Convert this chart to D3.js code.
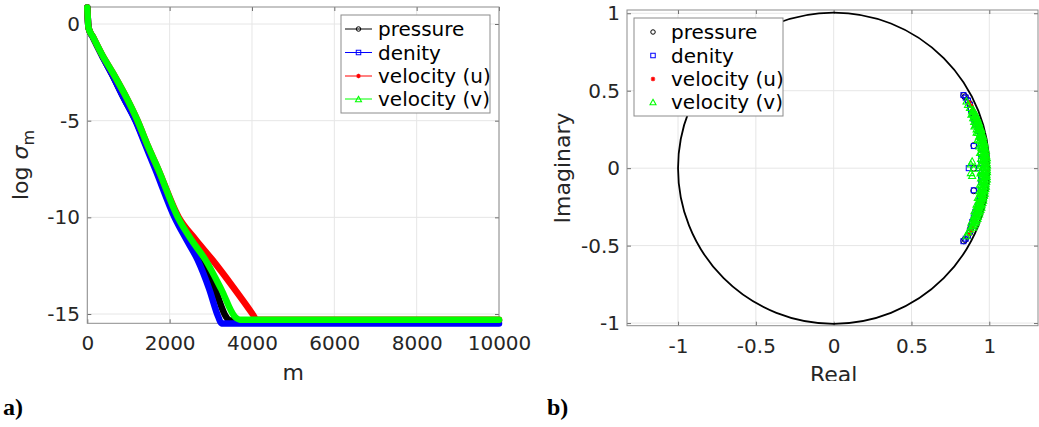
<!DOCTYPE html>
<html>
<head>
<meta charset="utf-8">
<script src="https://cdn.jsdelivr.net/npm/d3@7"></script>
<style>
  body { margin: 0; background: #fff; }
  svg { display: block; font-family: "DejaVu Sans", sans-serif; }
</style>
</head>
<body>
<div id="fig"></div>
<script>
//-------------------- data --------------------
const seriesNames = ['pressure', 'denity', 'velocity (u)', 'velocity (v)'];

// panel a) : log sigma_m against m
const mPressure = [0, 30, 140, 350, 600, 880, 1180, 1420, 1680, 2160, 2470, 2760, 3100, 3370, 3466, 10000];
const sPressure = [0.85, -0.2, -0.7, -1.6, -2.6, -3.8, -5.0, -6.2, -7.5, -10.0, -11.2, -12.2, -13.7, -15.14, -15.34, -15.34];
const mDenity = [0, 30, 140, 350, 600, 880, 1170, 1400, 1650, 2120, 2420, 2680, 2960, 3180, 3262, 10000];
const sDenity = [0.85, -0.2, -0.7, -1.6, -2.6, -3.8, -5.0, -6.2, -7.5, -10.0, -11.2, -12.2, -13.7, -15.14, -15.49, -15.49];
const mVelU = [0, 30, 140, 350, 625, 900, 1220, 1470, 1720, 2220, 2640, 3040, 3540, 4030, 4110, 10000];
const sVelU = [0.85, -0.2, -0.67, -1.55, -2.54, -3.6, -5.0, -6.3, -7.5, -10.0, -11.17, -12.2, -13.6, -15.05, -15.3, -15.3];
const mVelV = [0, 30, 140, 350, 625, 900, 1220, 1470, 1720, 2200, 2540, 2870, 3250, 3585, 3707, 10000];
const sVelV = [0.85, -0.2, -0.67, -1.55, -2.54, -3.6, -5.0, -6.3, -7.5, -10.0, -11.2, -12.2, -13.7, -15.14, -15.29, -15.29];

const xTicksA = [0, 2000, 4000, 6000, 8000, 10000];
const yTicksA = [0, -5, -10, -15];

// panel b) : eigenvalues, upper half as [modulus, angle in degrees]; the lower half is the conjugate
const eigPressure = [[0.959, 29.3], [0.962, 28.6], [0.966, 27.0], [0.968, 25.5], [0.962, 23.8], [0.958, 22.0],
  [0.96, 20.2], [0.963, 18.0], [0.966, 15.5], [0.97, 12.5], [0.973, 9.5], [0.976, 6.5], [0.978, 3.5], [0.912, 9.2]];
const realPressure = [0.9];
const eigDenity = [[0.958, 29.5], [0.963, 28.2], [0.967, 26.8], [0.965, 25.0], [0.96, 23.2], [0.956, 21.3],
  [0.955, 19.5], [0.953, 17.2], [0.957, 14.5], [0.96, 11.8], [0.955, 8.5], [0.952, 5.5], [0.948, 3.0], [0.912, 9.0]];
const realDenity = [0.868, 0.935];
const eigVelU = [[0.968, 26.0], [0.972, 24.5], [0.969, 23.0], [0.966, 21.5], [0.968, 20.0], [0.972, 18.3],
  [0.975, 16.0], [0.978, 13.5], [0.98, 11.0], [0.982, 8.5], [0.984, 6.0], [0.986, 3.5], [0.987, 1.2]];
const realVelU = [];
const eigVelV = [
  [0.984, 0.4], [0.986, 1.3], [0.983, 2.2], [0.985, 3.1], [0.987, 4.0], [0.984, 4.9], [0.982, 5.8], [0.985, 6.7],
  [0.983, 7.6], [0.981, 8.5], [0.984, 9.4], [0.982, 10.3], [0.98, 11.2], [0.983, 12.1], [0.981, 13.0], [0.979, 13.9],
  [0.982, 14.8], [0.98, 15.7], [0.978, 16.6], [0.98, 17.5], [0.977, 18.4], [0.979, 19.3], [0.976, 20.2],
  [0.977, 21.1], [0.974, 22.0], [0.973, 23.0],
  [0.972, 0.9], [0.97, 1.8], [0.973, 2.7], [0.971, 3.6], [0.969, 4.5], [0.972, 5.4], [0.97, 6.3], [0.968, 7.2],
  [0.971, 8.1], [0.969, 9.0], [0.967, 9.9], [0.97, 10.8], [0.968, 11.7], [0.966, 12.6], [0.969, 13.5], [0.967, 14.4],
  [0.965, 15.3], [0.968, 16.2], [0.966, 17.1], [0.964, 18.0], [0.966, 18.9], [0.963, 19.8], [0.965, 20.7],
  [0.962, 21.6], [0.963, 22.6], [0.96, 24.2],
  [0.958, 0.5], [0.956, 2.0], [0.959, 3.5], [0.957, 5.0], [0.955, 6.5], [0.958, 8.0], [0.956, 9.5], [0.954, 11.0],
  [0.957, 12.5], [0.955, 14.0], [0.953, 15.5], [0.955, 17.0], [0.952, 18.5], [0.954, 20.0], [0.951, 21.5],
  [0.956, 25.5], [0.958, 27.0],
  [0.947, 1.2], [0.949, 3.8], [0.946, 6.2], [0.948, 8.8], [0.945, 11.5], [0.947, 14.2], [0.945, 16.8],
  [0.882, 1.8], [0.891, 3.0], [0.944, 1.8]];
const realVelV = [0.9];

const xTicksB = [-1, -0.5, 0, 0.5, 1];
const yTicksB = [-1, -0.5, 0, 0.5, 1];

//-------------------- style --------------------
const colors = ['#000000', '#0000ff', '#ff0000', '#00ff00'];
const symbols = ['circle', 'square', 'asterisk', 'triangle'];
const TXT = '#262626', BOX = '#8c8c8c', GRID = '#e6e6e6';

const svg = d3.select('#fig').append('svg')
  .attr('width', 1039).attr('height', 427);

function marker(g, type, cx, cy, s, color) {
  if (type === 'circle') {
    g.append('circle').attr('cx', cx).attr('cy', cy).attr('r', s / 2)
      .attr('fill', 'none').attr('stroke', color).attr('stroke-width', 1);
  } else if (type === 'square') {
    g.append('rect').attr('x', cx - s / 2).attr('y', cy - s / 2).attr('width', s).attr('height', s)
      .attr('fill', 'none').attr('stroke', color).attr('stroke-width', 1);
  } else if (type === 'triangle') {
    const h = s * 0.9;
    g.append('path')
      .attr('d', `M${cx},${cy - h / 2}L${cx + s / 2},${cy + h / 2}L${cx - s / 2},${cy + h / 2}Z`)
      .attr('fill', 'none').attr('stroke', color).attr('stroke-width', 1.1);
  } else {
    const r = s / 2;
    let d = `M${cx - r},${cy}L${cx + r},${cy}M${cx},${cy - r}L${cx},${cy + r}`;
    d += `M${cx - r * 0.7},${cy - r * 0.7}L${cx + r * 0.7},${cy + r * 0.7}M${cx - r * 0.7},${cy + r * 0.7}L${cx + r * 0.7},${cy - r * 0.7}`;
    g.append('path').attr('d', d).attr('stroke', color).attr('stroke-width', 1.2).attr('fill', 'none');
  }
}

function frame(g, x, y, xt, yt, xPad, yPad) {
  const [x0, x1] = x.range(), [y0, y1] = y.range();
  // grid
  g.append('g').selectAll('line').data(xt).join('line')
    .attr('x1', d => x(d)).attr('x2', d => x(d)).attr('y1', y0).attr('y2', y1)
    .attr('stroke', GRID).attr('stroke-width', 1);
  g.append('g').selectAll('line').data(yt).join('line')
    .attr('y1', d => y(d)).attr('y2', d => y(d)).attr('x1', x0).attr('x2', x1)
    .attr('stroke', GRID).attr('stroke-width', 1);

  const fmt = d => String(d);
  const axes = [
    [d3.axisBottom(x).tickValues(xt).tickFormat(fmt).tickPadding(xPad), `translate(0,${y0})`],
    [d3.axisTop(x).tickValues(xt).tickFormat(''), `translate(0,${y1})`],
    [d3.axisLeft(y).tickValues(yt).tickFormat(fmt).tickPadding(yPad), `translate(${x0},0)`],
    [d3.axisRight(y).tickValues(yt).tickFormat(''), `translate(${x1},0)`]
  ];
  axes.forEach(([ax, tr]) => {
    const a = g.append('g').attr('transform', tr)
      .call(ax.tickSize(-4).tickSizeOuter(0));
    a.select('.domain').remove();
    a.selectAll('line').attr('stroke', '#6e6e6e');
    a.selectAll('text').attr('fill', TXT).style('font-size', '20px')
      .style('font-family', '"DejaVu Sans", sans-serif');
  });
  g.append('rect').attr('x', x0).attr('y', y1).attr('width', x1 - x0).attr('height', y0 - y1)
    .attr('fill', 'none').attr('stroke', BOX).attr('stroke-width', 1);
}

//-------------------- panel a) --------------------
const xA = d3.scaleLinear().domain([0, 10000]).range([87.3, 499]);
const yA = d3.scaleLinear().domain([-15.48, 0.88]).range([323.3, 7]);
const gA = svg.append('g');
frame(gA, xA, yA, xTicksA, yTicksA, 12.5, 7.3);

const linesA = [[mPressure, sPressure], [mDenity, sDenity], [mVelU, sVelU], [mVelV, sVelV]];
const line = d3.line().x(d => xA(d[0])).y(d => yA(d[1])).curve(d3.curveMonotoneX);
linesA.forEach(([m, s], i) => {
  gA.append('path').datum(m.map((v, k) => [v, s[k]]))
    .attr('d', line).attr('fill', 'none').attr('stroke', colors[i])
    .attr('stroke-width', 6.5).attr('stroke-linejoin', 'round').attr('stroke-linecap', 'round');
});

// legend a)
const legA = gA.append('g');
legA.append('rect').attr('x', 341).attr('y', 15).attr('width', 149).attr('height', 98)
  .attr('fill', '#fff').attr('stroke', BOX);
[29, 52.5, 76, 99].forEach((cy, i) => {
  legA.append('line').attr('x1', 345).attr('x2', 372).attr('y1', cy).attr('y2', cy)
    .attr('stroke', colors[i]).attr('stroke-width', 1);
  marker(legA, symbols[i], 358.5, cy, symbols[i] === 'triangle' ? 6 : 4.5, colors[i]);
  legA.append('text').attr('x', 378).attr('y', cy).attr('dy', '0.35em')
    .attr('fill', '#000').style('font-size', '20px').text(seriesNames[i]);
});

gA.append('text').attr('x', xA(5000)).attr('y', 380).attr('text-anchor', 'middle')
  .attr('fill', TXT).style('font-size', '22px').text('m');
const yl = gA.append('text').attr('transform', `translate(28,165) rotate(-90)`)
  .attr('text-anchor', 'middle').attr('fill', TXT).style('font-size', '22px');
yl.append('tspan').text('log ');
yl.append('tspan').style('font-style', 'italic').text('σ');
yl.append('tspan').attr('dy', 6).style('font-size', '16px').text('m');

svg.append('text').attr('x', 3).attr('y', 415).style('font-family', '"Liberation Serif", serif')
  .style('font-weight', 'bold').style('font-size', '24px').attr('fill', '#000').text('a)');

//-------------------- panel b) --------------------
const xB = d3.scaleLinear().domain([-1.328, 1.313]).range([627, 1038]);
const yB = d3.scaleLinear().domain([-1.017, 1.021]).range([325.7, 10]);
const gB = svg.append('g');
frame(gB, xB, yB, xTicksB, yTicksB, 13, 7);

gB.append('circle').attr('cx', xB(0)).attr('cy', yB(0)).attr('r', xB(1) - xB(0))
  .attr('fill', 'none').attr('stroke', '#000').attr('stroke-width', 1.8);

const eigSets = [[eigPressure, realPressure], [eigDenity, realDenity], [eigVelU, realVelU], [eigVelV, realVelV]];
const sizesB = [6, 5, 4.5, 7];
eigSets.forEach(([pol, re], i) => {
  const pts = [];
  pol.forEach(([r, a]) => {
    const t = a * Math.PI / 180;
    pts.push([r * Math.cos(t), r * Math.sin(t)]);
    pts.push([r * Math.cos(t), -r * Math.sin(t)]);
  });
  re.forEach(v => pts.push([v, 0]));
  const g = gB.append('g');
  pts.forEach(p => marker(g, symbols[i], xB(p[0]), yB(p[1]), sizesB[i], colors[i]));
});

// legend b)
const legB = gB.append('g');
legB.append('rect').attr('x', 634).attr('y', 18).attr('width', 149).attr('height', 98)
  .attr('fill', '#fff').attr('stroke', BOX);
[32, 55.5, 79, 102].forEach((cy, i) => {
  marker(legB, symbols[i], 653, cy, symbols[i] === 'triangle' ? 6 : 4.5, colors[i]);
  legB.append('text').attr('x', 671).attr('y', cy).attr('dy', '0.35em')
    .attr('fill', '#000').style('font-size', '20px').text(seriesNames[i]);
});

svg.append('clipPath').attr('id', 'cut').append('rect')
  .attr('x', 600).attr('y', 340).attr('width', 439).attr('height', 41);
gB.append('text').attr('clip-path', 'url(#cut)').attr('x', xB(0)).attr('y', 382)
  .attr('text-anchor', 'middle').attr('fill', TXT).style('font-size', '22px').text('Real');
gB.append('text').attr('transform', `translate(570,168) rotate(-90)`)
  .attr('text-anchor', 'middle').attr('fill', TXT).style('font-size', '22px').text('Imaginary');

svg.append('text').attr('x', 547).attr('y', 415).style('font-family', '"Liberation Serif", serif')
  .style('font-weight', 'bold').style('font-size', '24px').attr('fill', '#000').text('b)');
</script>
</body>
</html>
